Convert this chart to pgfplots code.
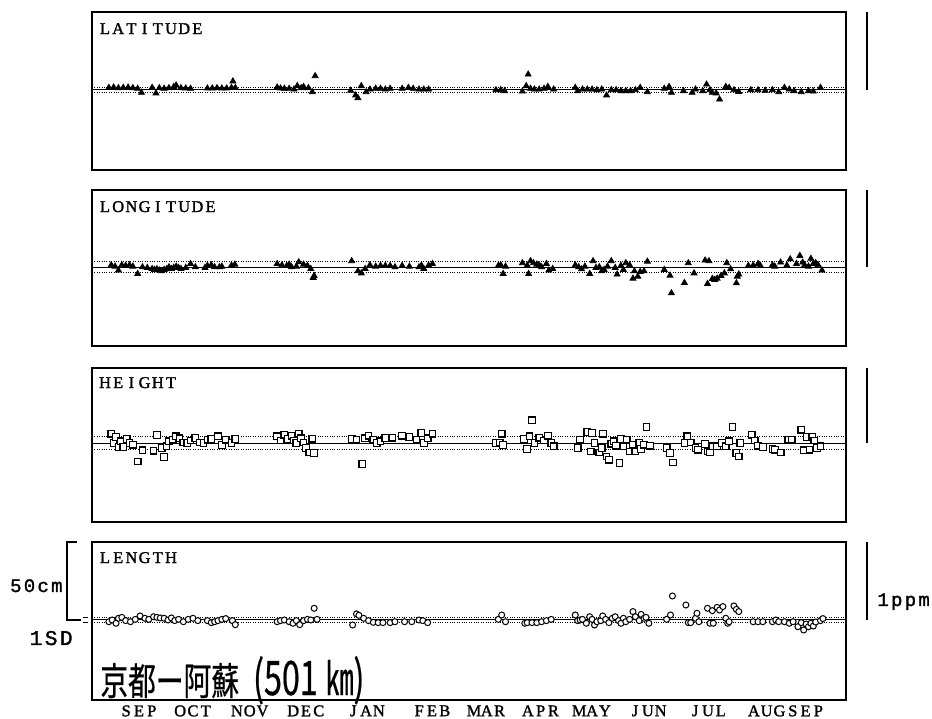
\documentclass[border=0pt]{standalone}
\usepackage{pgfplots}
\usepackage{pgfplotstable}
\pgfplotsset{compat=1.18}
\usepackage{fontspec}
\setmainfont{Liberation Serif}
\newfontfamily\lblfont[FakeBold=1.5]{Liberation Serif}
\newfontfamily\annfont[LetterSpace=12,FakeBold=1.5]{Liberation Mono}
\newfontfamily\cjk[FakeBold=0.6]{Noto Sans CJK JP}
\newdimen\cellw \cellw=6.6pt
\def\cells#1{\cellsaux#1\relax}
\def\cellsaux#1{\ifx\relax#1\else\makebox[\cellw][c]{#1}\expandafter\cellsaux\fi}
\def\mcells#1{{\cellw=6.4pt\relax\cells{#1}}}

% x: time position along the year (Sep .. Sep), y: deviation in cm
\pgfplotstableread{
x y
35 1.5
45 1.7
55 1.3
65 1.5
75 1.7
85 1.3
95 0.9
103 -1.7
125 1.5
133 -2.1
140 1.3
150 0.9
160 1.3
170 2.1
175 3.0
185 1.3
195 1.1
205 0.9
240 1.1
250 1.1
260 1.3
270 1.1
280 1.1
290 1.5
293 5.6
298 1.5
385 1.7
392 1.1
400 0.9
410 0.9
420 0.4
427 2.6
435 1.3
440 2.1
450 1.3
458 -1.3
464 9.0
538 -0.4
548 -3.4
553 -5.1
560 2.6
570 -1.3
578 0.4
590 0.9
600 0.9
610 0.4
620 0.9
645 0.9
658 1.5
668 0.9
680 0.4
690 0.4
700 0.4
840 0.0
850 0.0
858 -0.6
895 -0.9
903 2.6
907 10.0
912 0.9
920 0.4
930 0.4
940 0.9
948 2.1
960 0.4
1005 1.5
1010 -0.6
1020 0.4
1030 0.4
1040 0.4
1050 0.0
1060 0.4
1070 -3.4
1080 0.0
1090 0.0
1100 -0.6
1110 -0.6
1120 -0.6
1130 0.0
1140 1.5
1155 -1.3
1190 0.9
1200 2.1
1205 -1.7
1230 -0.6
1248 -1.7
1255 0.4
1270 -0.6
1278 3.6
1285 0.0
1290 -1.7
1298 -2.1
1305 -6.0
1318 2.1
1325 1.5
1335 0.0
1345 -1.1
1370 0.0
1385 0.0
1400 -0.4
1415 0.0
1428 -1.3
1440 1.5
1450 0.4
1460 -0.6
1475 -1.3
1490 -0.6
1500 -0.9
1515 1.5
}\latdata

\pgfplotstableread{
x y
40 1.3
48 0.4
55 -2.1
62 1.3
70 0.9
78 1.3
85 0.4
95 -4.3
105 0.0
115 -0.4
125 -1.1
130 -1.7
135 -1.3
140 -2.1
145 -2.6
150 -1.7
155 -1.3
160 0.0
165 -1.1
170 -0.4
175 0.4
180 -0.4
185 -1.1
195 -0.4
205 2.1
215 0.0
235 -0.4
240 0.9
248 1.3
255 0.0
265 0.0
270 0.4
290 1.1
297 1.7
385 2.1
395 1.3
405 0.9
410 1.7
415 0.0
425 0.4
430 3.2
440 1.7
448 0.9
455 -1.1
460 -6.8
462 -5.6
540 3.9
553 -2.6
560 -3.9
568 -1.1
578 1.3
590 0.4
600 0.9
610 0.9
620 0.9
630 0.0
645 0.9
660 0.4
680 0.0
685 1.1
690 -1.1
700 1.1
708 2.1
845 0.9
850 1.3
855 -4.3
860 0.4
895 2.6
905 1.1
908 -4.3
912 3.9
918 2.6
925 1.7
930 1.3
935 0.0
945 2.1
950 -2.1
958 -1.1
1005 1.3
1012 0.0
1018 -1.3
1025 0.4
1035 -4.3
1042 3.9
1048 -0.4
1055 0.0
1060 -2.6
1065 -1.7
1072 0.4
1080 3.9
1088 -0.4
1092 -4.7
1100 0.9
1105 -1.7
1110 2.6
1118 1.3
1125 -7.3
1128 -2.6
1135 -6.0
1140 -3.0
1148 -2.6
1155 3.6
1190 -1.7
1202 -5.4
1205 -16.7
1232 -10.1
1240 2.6
1252 -3.9
1275 4.3
1280 -10.7
1283 3.9
1290 -7.5
1295 -8.1
1300 -7.3
1308 -5.6
1315 -3.9
1320 2.6
1328 -1.3
1340 -10.3
1342 -6.0
1345 -4.7
1365 0.9
1375 1.1
1385 2.1
1390 0.9
1415 1.3
1420 0.4
1432 3.0
1445 1.1
1452 5.1
1465 2.1
1472 7.3
1478 3.0
1482 1.3
1490 0.4
1495 5.4
1500 2.1
1505 2.6
1510 1.3
1518 -2.1
}\londata

\pgfplotstableread{
x y
40 6.0
45 0.0
50 3.9
55 -2.6
60 1.1
65 -2.6
72 2.6
78 0.0
85 -1.1
95 -11.8
105 -4.7
128 -4.9
135 5.1
145 -3.2
150 -9.0
155 -2.1
160 1.1
168 2.1
175 4.3
182 3.0
190 0.4
198 0.0
205 1.7
215 3.2
225 0.4
232 0.0
240 2.1
248 2.6
262 4.3
270 -1.3
278 2.1
290 0.0
298 2.6
385 4.3
392 1.7
400 5.4
408 2.6
415 4.7
420 1.7
425 0.0
430 6.0
435 3.0
440 0.4
445 -3.2
452 -6.0
458 2.8
462 -6.4
540 2.6
550 2.1
562 -13.3
568 3.0
575 4.7
585 2.1
592 0.0
600 1.1
610 3.2
625 3.4
645 4.7
660 3.9
675 2.1
685 6.4
690 0.0
698 3.0
708 6.0
840 0.0
848 0.4
852 6.0
855 -1.3
898 2.6
905 -3.9
910 4.3
915 14.6
920 0.0
930 3.4
940 1.7
948 4.7
955 0.0
960 -2.1
1010 -3.2
1015 2.1
1030 7.1
1037 -5.4
1040 6.4
1045 0.0
1055 -6.0
1060 -3.2
1063 6.0
1070 -8.6
1075 -10.7
1080 -0.4
1085 1.1
1090 -1.7
1097 -12.8
1100 2.6
1105 -2.1
1112 2.1
1118 -5.4
1125 -1.1
1130 -5.4
1138 0.0
1142 -3.9
1148 -1.1
1153 10.3
1160 -1.7
1195 -3.2
1202 -6.4
1208 -12.4
1232 0.0
1238 4.3
1245 0.4
1255 -3.2
1260 -4.3
1275 -0.6
1280 -5.4
1285 -6.0
1290 -2.1
1300 -2.1
1310 0.0
1318 -2.1
1325 1.1
1332 10.3
1340 -6.4
1345 -8.6
1348 0.0
1372 5.4
1378 1.7
1385 -1.7
1395 -2.6
1415 -3.9
1420 -4.3
1432 -6.0
1448 2.1
1455 2.1
1475 8.6
1480 -4.7
1487 3.9
1492 -4.3
1498 3.9
1502 1.7
1508 -3.2
1515 -2.1
}\hgtdata

\pgfplotstableread{
x y
35 -1.1
42 0.0
50 -2.1
55 1.1
62 1.7
70 -0.4
80 -1.1
90 0.4
100 2.6
110 1.1
118 0.4
128 2.1
135 1.7
142 1.3
150 1.1
158 0.0
165 1.3
172 -0.4
180 0.4
190 -1.1
200 0.4
210 1.1
220 -0.4
240 -0.4
248 -1.7
255 -1.1
262 -0.4
270 0.4
278 0.9
292 -0.4
298 -3.0
385 -1.1
392 -0.4
400 0.0
410 -1.1
418 -2.1
425 -0.4
432 -3.0
440 -0.4
448 0.4
455 0.0
462 7.5
468 0.4
542 -3.2
550 3.9
555 3.0
565 1.1
575 -0.4
585 -1.5
595 -1.7
605 -1.7
620 -1.7
630 -1.1
650 -1.1
665 -1.1
680 0.0
688 -0.4
698 -1.7
845 0.4
852 3.2
860 -1.1
900 -2.1
905 -1.7
915 -1.7
925 -1.7
935 -1.1
945 -0.4
955 0.4
1005 3.2
1010 -0.4
1015 0.0
1020 0.4
1028 -2.1
1035 2.1
1040 0.4
1045 -3.2
1050 -1.1
1058 -0.4
1062 2.6
1068 0.4
1075 -1.7
1082 1.1
1088 2.1
1095 -0.4
1100 -2.1
1105 1.1
1110 -1.1
1118 0.4
1125 5.4
1130 2.1
1138 -0.4
1142 3.6
1148 1.1
1152 1.7
1158 -2.1
1195 0.4
1203 3.2
1207 15.4
1235 9.6
1240 -1.7
1245 -1.7
1255 1.1
1258 4.3
1262 -1.1
1280 7.5
1285 -2.1
1290 6.0
1292 -2.1
1300 8.1
1305 6.4
1312 8.6
1318 1.1
1322 -2.1
1325 -1.1
1335 9.0
1340 6.8
1345 5.4
1375 -1.1
1385 -1.1
1395 -1.1
1415 -1.1
1422 0.0
1428 -1.1
1440 -1.1
1450 -2.1
1458 -1.1
1468 -4.3
1475 -1.7
1480 -6.4
1485 -2.6
1490 -4.3
1495 -2.1
1500 -3.9
1505 -1.3
1515 -0.4
1520 0.9
}\lendata

\pgfplotsset{
  panel/.style={
    scale only axis, width=377pt, xmin=0, xmax=1568,
    xtick=\empty, ytick=\empty, clip=false,
    axis line style={line width=0.75pt},
  },
  zeroline/.style={black, line width=0.5pt, forget plot},
  sdline/.style={black, line width=0.45pt, dash pattern=on 0.45pt off 0.75pt, forget plot},
}
\tikzset{
  plabel/.style={anchor=base west, inner sep=0pt, font=\lblfont\fontsize{8.2}{9}\selectfont},
  sbar/.style={line width=0.65pt},
}

\begin{document}
\begin{tikzpicture}
\useasboundingbox (0,0) rectangle (466pt,-359pt);

% LATITUDE
\begin{axis}[panel, at={(46pt,-6pt)}, anchor=north west, height=79pt, ymin=-51.3, ymax=50]
\addplot[zeroline] coordinates {(0,0) (1568,0)};
\addplot[sdline] coordinates {(0,1.8) (1568,1.8)};
\addplot[sdline] coordinates {(0,-1.8) (1568,-1.8)};
\addplot[only marks, mark=triangle*, mark size=1.7pt, black] table {\latdata};
\node[plabel] at ([xshift=3pt,yshift=-11pt]rel axis cs:0,1) {\cells{LATITUDE}};
\draw[sbar] ([xshift=10.5pt]rel axis cs:1,1) -- ([xshift=10.5pt]axis cs:1568,0);
\end{axis}

% LONGITUDE
\begin{axis}[panel, at={(46pt,-95pt)}, anchor=north west, height=78pt, ymin=-50.6, ymax=49.4]
\addplot[zeroline] coordinates {(0,0) (1568,0)};
\addplot[sdline] coordinates {(0,3.6) (1568,3.6)};
\addplot[sdline] coordinates {(0,-3.6) (1568,-3.6)};
\addplot[only marks, mark=triangle*, mark size=1.7pt, black] table {\londata};
\node[plabel] at ([xshift=3pt,yshift=-11pt]rel axis cs:0,1) {\cells{LONGITUDE}};
\draw[sbar] ([xshift=10.5pt]rel axis cs:1,1) -- ([xshift=10.5pt]axis cs:1568,0);
\end{axis}

% HEIGHT
\begin{axis}[panel, at={(46pt,-184pt)}, anchor=north west, height=77pt, ymin=-50.6, ymax=48.1]
\addplot[zeroline] coordinates {(0,0) (1568,0)};
\addplot[sdline] coordinates {(0,4.3) (1568,4.3)};
\addplot[sdline] coordinates {(0,-4.3) (1568,-4.3)};
\addplot[only marks, mark=square*, mark size=1.65pt, black, line width=0.6pt, mark options={fill=white}] table {\hgtdata};
\node[plabel] at ([xshift=3pt,yshift=-10pt]rel axis cs:0,1) {\cells{HEIGHT}};
\draw[sbar] ([xshift=10.5pt]rel axis cs:1,1) -- ([xshift=10.5pt]axis cs:1568,0);
\end{axis}

% LENGTH
\begin{axis}[panel, at={(46pt,-271pt)}, anchor=north west, height=79pt, ymin=-51.3, ymax=50,
  xtick={97.7,210,328,445,570,707,821,933,1040,1156,1281,1403,1484},
  xticklabels={{\mcells{SEP}},{\mcells{OCT}},{\mcells{NOV}},{\mcells{DEC}},{\mcells{JAN}},{\mcells{FEB}},{\mcells{MAR}},{\mcells{APR}},{\mcells{MAY}},{\mcells{JUN}},{\mcells{JUL}},{\mcells{AUG}},{\mcells{SEP}}},
  major tick length=0pt,
  xticklabel style={font=\lblfont\fontsize{8.2}{9}\selectfont, inner sep=0pt, anchor=north, yshift=-2.5pt}]
\addplot[zeroline] coordinates {(0,0) (1568,0)};
\addplot[sdline] coordinates {(0,1.8) (1568,1.8)};
\addplot[sdline] coordinates {(0,-1.8) (1568,-1.8)};
\addplot[only marks, mark=*, mark size=1.5pt, black, line width=0.5pt, mark options={fill=white}] table {\lendata};
\node[plabel] at ([xshift=3pt,yshift=-10.5pt]rel axis cs:0,1) {\cells{LENGTH}};
\draw[sbar] ([xshift=10.5pt]rel axis cs:1,1) -- ([xshift=10.5pt]axis cs:1568,0);
% left bracket 50 cm and 1 SD marker
\draw[line width=0.6pt] ([xshift=-7.5pt]rel axis cs:0,1) -- ([xshift=-12.5pt]rel axis cs:0,1) -- ([xshift=-12.5pt]axis cs:0,0) -- ([xshift=-5.5pt]axis cs:0,0);
\draw[line width=0.5pt] ([xshift=-4.5pt]axis cs:0,1.8) -- ([xshift=-2pt]axis cs:0,1.8);
\draw[line width=0.5pt] ([xshift=-4.5pt]axis cs:0,-1.8) -- ([xshift=-2pt]axis cs:0,-1.8);
\node[anchor=base east, inner sep=0pt, font=\annfont\fontsize{9.5}{10}\selectfont] at ([xshift=-14.5pt,yshift=14pt]axis cs:0,0) {50cm};
\node[anchor=base east, inner sep=0pt, font=\annfont\fontsize{10.5}{11}\selectfont] at ([xshift=-9.5pt,yshift=-12.5pt]axis cs:0,0) {1SD};
\node[anchor=base west, inner sep=0pt, font=\annfont\fontsize{9.5}{10}\selectfont] at ([xshift=15.5pt,yshift=7pt]axis cs:1568,0) {1ppm};
% station pair
\node[anchor=base west, inner sep=0pt] at ([xshift=4pt,yshift=2.5pt]rel axis cs:0,0)
  {\cjk\fontsize{19pt}{19pt}\selectfont\scalebox{0.73}[1]{京都ー阿蘇}\hspace{7pt}\scalebox{0.85}[1.25]{(501}\hspace{4pt}\scalebox{0.73}[1.2]{㎞}\scalebox{0.85}[1.25]{)}};
\end{axis}
\end{tikzpicture}
\end{document}
